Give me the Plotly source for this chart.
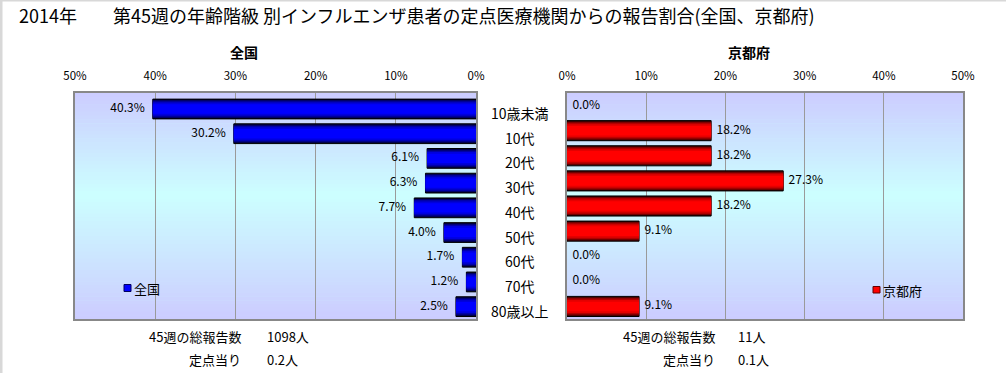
import plotly.graph_objects as go

categories = ["10歳未満", "10代", "20代", "30代", "40代", "50代", "60代", "70代", "80歳以上"]
national = [40.3, 30.2, 6.1, 6.3, 7.7, 4.0, 1.7, 1.2, 2.5]
kyoto = [0.0, 18.2, 18.2, 27.3, 18.2, 9.1, 0.0, 0.0, 9.1]
tick_vals = [0, 10, 20, 30, 40, 50]
tick_text = ["0%", "10%", "20%", "30%", "40%", "50%"]

title_text = "2014年　　第45週の年齢階級 別インフルエンザ患者の定点医療機関からの報告割合(全国、京都府)"
left_title = "全国"
right_title = "京都府"
left_stats = [("45週の総報告数", "1098人"), ("定点当り", "0.2人")]
right_stats = [("45週の総報告数", "11人"), ("定点当り", "0.1人")]

W, H = 1006, 373
FONT = "Noto Sans CJK JP"

def px(x):
    return x / W

def py(y):
    return 1 - y / H

fig = go.Figure()

blue_layers = [(0.80, "#000030"), (0.72, "#000068"), (0.63, "#0000a8"), (0.52, "#0000dd"), (0.38, "#0000ff")]
red_layers = [(0.80, "#300000"), (0.72, "#700000"), (0.63, "#b00000"), (0.52, "#e40000"), (0.38, "#ff0000")]

for i, (w, c) in enumerate(blue_layers):
    fig.add_trace(go.Bar(
        x=national, y=categories, orientation="h", width=w,
        marker=dict(color=c, line=dict(color="black", width=1 if i == 0 else 0)),
        xaxis="x", yaxis="y", showlegend=False, hoverinfo="skip"))
for i, (w, c) in enumerate(red_layers):
    fig.add_trace(go.Bar(
        x=kyoto, y=categories, orientation="h", width=w,
        marker=dict(color=c, line=dict(color="black",
                                       width=[(1 if v > 0 else 0) if i == 0 else 0 for v in kyoto])),
        xaxis="x2", yaxis="y2", showlegend=False, hoverinfo="skip"))

fig.add_trace(go.Scatter(
    x=national, y=categories, mode="text", text=[f"{v:.1f}%   " for v in national],
    textposition="middle left", textfont=dict(size=12, color="black", family=FONT),
    xaxis="x", yaxis="y", showlegend=False, cliponaxis=False, hoverinfo="skip"))
fig.add_trace(go.Scatter(
    x=kyoto, y=categories, mode="text", text=[f"  {v:.1f}%" for v in kyoto],
    textposition="middle right", textfont=dict(size=12, color="black", family=FONT),
    xaxis="x2", yaxis="y2", showlegend=False, cliponaxis=False, hoverinfo="skip"))

# gradient background stripes
def mix(c1, c2, t):
    return "rgb(%d,%d,%d)" % tuple(round(a + (b - a) * t) for a, b in zip(c1, c2))

top_c = (204, 204, 255)
mid_c = (204, 255, 255)
n = 60
peak = 0.45
shapes = []
for xr, yr in (("x domain", "y domain"), ("x2 domain", "y2 domain")):
    for k in range(n):
        f0 = k / n
        f1 = (k + 1) / n
        fc = (f0 + f1) / 2  # fraction from top
        t = fc / peak if fc < peak else (1 - fc) / (1 - peak)
        shapes.append(dict(type="rect", xref=xr, yref=yr, x0=0, x1=1,
                           y0=1 - f1 - 0.002, y1=1 - f0,
                           fillcolor=mix(top_c, mid_c, t), line=dict(width=0), layer="below"))

# legend squares
shapes.append(dict(type="rect", xref="paper", yref="paper", x0=px(124), x1=px(131), y0=py(291.5), y1=py(284.5),
                   fillcolor="#0000ff", line=dict(color="#000060", width=1)))
shapes.append(dict(type="rect", xref="paper", yref="paper", x0=px(873), x1=px(880), y0=py(293), y1=py(286.5),
                   fillcolor="#ff0000", line=dict(color="#600000", width=1)))
# outer frame lines
shapes.append(dict(type="line", xref="paper", yref="paper", x0=0, x1=1, y0=py(0.5), y1=py(0.5),
                   line=dict(color="#d8d8d8", width=2)))
shapes.append(dict(type="line", xref="paper", yref="paper", x0=px(1), x1=px(1), y0=0, y1=1,
                   line=dict(color="#d8d8d8", width=3)))

annotations = []
annotations.append(dict(text=title_text, x=px(17), y=py(15), xref="paper", yref="paper",
                        xanchor="left", yanchor="middle", showarrow=False,
                        font=dict(size=18, color="black", family=FONT)))
annotations.append(dict(text="<b>" + left_title + "</b>", x=px(244), y=py(52), xref="paper", yref="paper",
                        xanchor="center", yanchor="middle", showarrow=False,
                        font=dict(size=14, color="black", family=FONT)))
annotations.append(dict(text="<b>" + right_title + "</b>", x=px(749), y=py(52), xref="paper", yref="paper",
                        xanchor="center", yanchor="middle", showarrow=False,
                        font=dict(size=14, color="black", family=FONT)))
for c in categories:
    annotations.append(dict(text=c, x=px(520), y=c, xref="paper", yref="y", yshift=-4,
                            xanchor="center", yanchor="middle", showarrow=False,
                            font=dict(size=14, color="black", family=FONT)))
annotations.append(dict(text="全国", x=px(132), y=py(288), xref="paper", yref="paper",
                        xanchor="left", yanchor="middle", showarrow=False,
                        font=dict(size=13, color="black", family=FONT)))
annotations.append(dict(text="京都府", x=px(881), y=py(290), xref="paper", yref="paper",
                        xanchor="left", yanchor="middle", showarrow=False,
                        font=dict(size=13, color="black", family=FONT)))
for stats, lab_r, val_l in ((left_stats, 243, 265), (right_stats, 717, 736)):
    for (lab, val), yy in zip(stats, (336, 359)):
        annotations.append(dict(text=lab, x=px(lab_r), y=py(yy), xref="paper", yref="paper",
                                xanchor="right", yanchor="middle", showarrow=False,
                                font=dict(size=13, color="black", family=FONT)))
        annotations.append(dict(text=val, x=px(val_l), y=py(yy), xref="paper", yref="paper",
                                xanchor="left", yanchor="middle", showarrow=False,
                                font=dict(size=13, color="black", family=FONT)))

axis_common = dict(side="top", tickvals=tick_vals, ticktext=tick_text, showgrid=True,
                   gridcolor="#9a9a9a", gridwidth=1, showline=True, linecolor="#888888",
                   linewidth=1.5, mirror=True, zeroline=False, ticks="outside", ticklen=7,
                   tickcolor="rgba(0,0,0,0)", tickfont=dict(size=11.5, color="black", family=FONT),
                   fixedrange=True, automargin=False)
yaxis_common = dict(categoryorder="array", categoryarray=categories, autorange="reversed",
                    showticklabels=False, showgrid=False, showline=True, linecolor="#888888",
                    linewidth=1.5, mirror=True, ticks="", zeroline=False, fixedrange=True,
                    automargin=False)

fig.update_layout(
    width=W, height=H, autosize=False,
    margin=dict(l=0, r=0, t=0, b=0, pad=0, autoexpand=False),
    paper_bgcolor="white", plot_bgcolor="#ccf0ff",
    barmode="overlay", bargap=0.2,
    font=dict(family=FONT, color="black"),
    xaxis=dict(domain=[px(75), px(476)], range=[50, 0], anchor="y", **axis_common),
    xaxis2=dict(domain=[px(567), px(963)], range=[0, 50], anchor="y2", **axis_common),
    yaxis=dict(domain=[py(319), py(93)], anchor="x", **yaxis_common),
    yaxis2=dict(domain=[py(319), py(93)], anchor="x2", **yaxis_common),
    shapes=shapes, annotations=annotations,
)

fig.write_html(
    "out.html",
    config={"displayModeBar": False, "responsive": False},
    post_script="document.body.style.margin='0px';document.body.style.overflow='hidden';",
)
